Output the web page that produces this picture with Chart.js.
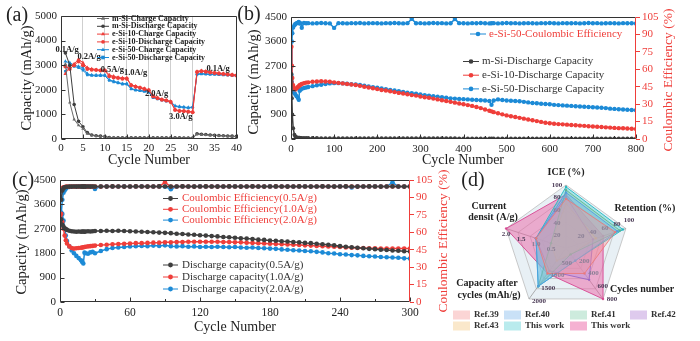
<!DOCTYPE html>
<html><head><meta charset="utf-8">
<script src="https://cdn.jsdelivr.net/npm/chart.js@4.4.1/dist/chart.umd.min.js"></script>
<style>
html,body{margin:0;padding:0;background:#fff;width:700px;height:341px;overflow:hidden;}
canvas{position:absolute;}
</style></head><body>
<canvas id="ca" width="245" height="172" style="left:0px;top:0px"></canvas>
<canvas id="cb" width="464" height="172" style="left:236px;top:0px"></canvas>
<canvas id="cc" width="450" height="173" style="left:0px;top:168px"></canvas>
<canvas id="cd" width="260" height="176" style="left:440px;top:165px"></canvas>
<script>
// ---------------- DATA ----------------
// (a) rate performance
const aCycles = [1,2,3,4,5,6,7,8,9,10,11,12,13,14,15,16,17,18,19,20,21,22,23,24,25,26,27,28,29,30,31,32,33,34,35,36,37,38,39,40];
const aMSiCharge = [3050,1480,790,560,420,210,150,120,105,95,55,48,45,45,44,44,43,43,42,42,42,41,41,41,40,40,40,40,40,40,190,175,165,155,145,135,125,115,105,95];
const aMSiDischarge = [3500,3000,1400,720,500,260,165,135,115,100,60,52,50,49,48,48,47,47,46,46,45,45,45,44,44,44,44,43,43,43,215,195,180,165,155,145,135,125,115,105];
const aE10Charge = [2650,2950,3050,3250,3100,2900,2850,2820,2800,2800,2600,2550,2500,2480,2480,2200,2150,2100,2050,2000,1750,1680,1620,1580,1530,1200,1150,1150,1120,1100,2750,2780,2760,2730,2700,2680,2660,2640,2620,2600];
const aE10Discharge = [2950,2850,3000,3150,3000,2850,2820,2800,2780,2780,2550,2500,2480,2450,2450,2180,2120,2080,2030,1980,1730,1660,1600,1560,1500,1180,1140,1130,1110,1090,2720,2750,2730,2700,2680,2660,2640,2620,2600,2580];
const aE50Charge = [3150,3100,3000,2950,2900,2650,2600,2600,2600,2600,2400,2350,2300,2250,2250,2050,2000,1980,1950,1920,1700,1650,1600,1550,1520,1350,1320,1300,1280,1300,2650,2660,2650,2640,2640,2630,2620,2610,2600,2590];
const aE50Discharge = [2750,3050,2950,2900,2800,2600,2580,2570,2570,2570,2380,2320,2280,2230,2230,2030,1980,1960,1930,1900,1680,1630,1580,1540,1500,1330,1300,1280,1260,1280,2620,2640,2630,2620,2620,2610,2600,2590,2580,2570];
const aRateLabels = ['0.1A/g','0.2A/g','0.5A/g','1.0A/g','2.0A/g','3.0A/g','0.1A/g'];
const aRateX = [1.4,6.4,11.7,17,21.8,27.3,35.8];
const aRateY = [3640,3330,2800,2700,1830,890,2870];

// (b) long cycling
const bCycles = [1,2,3,5,8,10,13,16,18,20,22,25,30,35,
40,50,60,70,80,90,100,110,120,130,140,150,160,170,180,190,200,210,220,230,240,250,260,270,280,290,300,310,320,330,340,350,360,370,380,390,400,410,420,430,440,450,460,
465,470,480,490,500,510,520,530,540,550,560,570,580,590,600,610,620,630,640,650,660,670,680,690,700,710,720,730,740,750,760,770,780,790,800];
const bMSi = [2400,1500,900,400,160,90,60,50,45,42,40,38,36,35,
34,33,33,32,32,31,31,30,30,30,29,29,29,28,28,28,28,27,27,27,27,26,26,26,26,25,25,25,25,25,24,24,24,24,24,23,23,23,23,23,23,22,22,
22,22,22,22,21,21,21,21,21,21,20,20,20,20,20,20,20,20,19,19,19,19,19,19,19,19,18,18,18,18,18,18,18,18,18];
const bE10 = [3400,2700,2250,1980,1860,1830,1870,1920,1950,1980,2000,2030,2060,2080,
2090,2110,2120,2130,2120,2110,2090,2070,2050,2030,2010,1990,1960,1930,1900,1870,1840,1810,1790,1760,1730,1700,1680,1650,1620,1600,1570,1540,1520,1490,1460,1430,1400,1370,1340,1310,1280,1250,1220,1180,1140,1090,1040,
1020,990,950,910,870,840,810,780,750,720,690,660,630,600,580,560,550,540,530,515,505,495,485,470,460,450,440,430,420,410,400,395,385,380,370];
const bE50 = [2700,2100,1850,1750,1700,1650,1580,1520,1450,1780,1820,1850,1880,1900,
1920,1950,1980,2000,2030,2050,2060,2060,2050,2040,2020,2010,1990,1970,1940,1910,1890,1860,1840,1810,1790,1760,1740,1710,1690,1670,1640,1620,1600,1580,1560,1540,1520,1500,1490,1480,1470,1460,1450,1440,1430,1420,1400,
1260,1420,1460,1440,1420,1410,1400,1390,1370,1350,1330,1320,1300,1290,1280,1260,1250,1240,1230,1220,1210,1200,1190,1180,1170,1160,1150,1140,1120,1110,1100,1090,1080,1070,1060];
const bE50CE = [55,84,91,96,98,99,99.6,100.2,100.8,99.4,99.7,95.8,99.8,99.6,
99.7,99.5,99.6,99.8,99.6,99.5,95.6,99.7,99.6,99.5,99.7,99.6,99.8,99.5,99.6,99.7,99.6,99.5,99.7,99.6,99.8,99.6,99.5,99.7,103.4,99.6,99.7,99.5,99.6,99.8,99.6,99.7,99.5,99.6,103.2,99.7,99.6,99.5,99.7,99.6,99.8,99.6,99.5,
99.6,99.7,99.5,99.6,99.8,99.6,99.7,99.5,99.6,99.7,99.6,99.5,99.7,99.6,99.8,99.6,99.5,99.7,99.6,99.6,99.7,99.5,99.6,99.8,99.6,99.7,99.5,99.6,99.7,99.6,99.5,99.7,99.6,99.6,99.5];

// (c) cycling at different current densities
const cCycles = [1,2,3,4,5,6,8,10,12,14,16,18,19,20,21,22,24,26,28,30,
35,40,45,50,55,60,65,70,75,80,85,90,95,100,105,110,115,120,125,130,135,140,145,150,155,160,165,170,175,180,185,190,195,200,205,210,215,220,225,230,235,240,245,250,255,260,265,270,275,280,285,290,295,300];
const cDis05 = [3050,2850,2780,2720,2690,2660,2630,2610,2600,2590,2600,2590,2600,2600,2590,2600,2610,2600,2610,2620,
2620,2630,2620,2630,2620,2610,2600,2590,2580,2570,2560,2550,2540,2520,2510,2490,2480,2460,2450,2430,2420,2400,2390,2370,2350,2340,2320,2300,2290,2270,2260,2240,2230,2210,2200,2180,2170,2150,2130,2110,2090,2060,2040,2020,2000,1980,1960,1950,1930,1920,1900,1890,1870,1860];
const cDis10 = [3250,2950,2700,2450,2280,2160,2050,1990,1970,1980,1990,2000,2010,2020,2030,2040,2050,2060,2070,2080,
2100,2110,2130,2140,2150,2160,2170,2170,2180,2190,2190,2200,2200,2210,2210,2220,2220,2220,2220,2220,2220,2210,2210,2200,2200,2190,2180,2170,2160,2150,2140,2130,2120,2110,2100,2090,2080,2070,2060,2050,2040,2030,2010,2000,1990,1990,1980,1980,1970,1970,1970,1970,1970,1970];
const cDis20 = [3300,3250,3000,2700,2450,2250,2050,1900,1800,1700,1620,1540,1480,1420,1820,1800,1780,1830,1850,1800,
1880,1950,1990,2010,2030,2050,2060,2070,2060,2080,2070,2090,2060,2050,2060,2040,2050,2030,2040,2030,2040,2030,2020,2030,2010,2000,2010,1990,1980,1970,1960,1940,1930,1910,1900,1880,1870,1850,1830,1800,1790,1760,1750,1730,1720,1700,1690,1680,1660,1650,1640,1630,1610,1600];
const cCE05 = [88,96,98,98.8,99,99.2,99.3,99.3,99.4,99.3,99.4,99.3,99.4,99.3,99.4,99.3,99.4,99.3,99.4,99.3,
99.4,99.3,99.5,99.4,99.3,99.4,99.5,99.4,99.3,99.4,99.5,99.4,99.3,99.4,99.5,99.4,99.3,99.4,99.5,99.4,99.3,99.4,99.5,99.4,99.3,99.4,99.5,99.4,99.3,99.4,99.5,99.4,99.3,99.4,99.5,99.4,99.3,99.4,99.5,99.4,99.3,99.4,99.5,99.4,99.3,99.4,99.5,99.4,99.3,99.4,99.5,99.4,99.3,99.4];
const cCE10 = [96,98,98.8,99,99.2,99.3,99.3,99.4,99.3,99.4,99.3,99.4,99.3,99.4,99.3,99.4,99.3,99.4,99.3,99.4,
99.3,99.4,99.5,99.4,99.3,99.4,99.5,99.4,99.3,99.4,99.5,103,99.3,99.4,99.5,99.4,99.3,99.4,99.5,99.4,99.3,99.4,99.5,99.4,99.3,99.4,99.5,99.4,99.3,99.4,99.5,99.4,99.3,99.4,99.5,99.4,99.3,99.4,99.5,99.4,99.3,99.4,99.5,99.4,99.3,99.4,99.5,99.4,99.3,99.4,99.5,99.4,99.3,99.4];
const cCE20 = [75,88,94,96,97.5,98.5,99,99.2,99.4,99.3,99.5,99.4,99.3,99.5,99.4,99.3,99.5,99.4,99.3,97.3,
99.4,99.5,99.3,99.4,99.5,99.3,99.4,99.5,99.3,99.4,99.5,99.3,97,99.4,99.5,99.3,99.4,99.5,99.3,99.4,99.5,99.3,99.4,99.5,99.3,99.4,99.5,99.3,99.4,99.5,99.3,99.4,99.5,99.3,99.4,99.5,99.3,99.4,99.5,99.3,99.4,99.5,99.3,98.6,99.5,99.3,99.4,99.5,99.3,99.4,103,99.3,99.4,99.5];

// (d) radar comparison
const dAxes = ['ICE (%)','Retention (%)','Cycles number','Capacity after cycles (mAh/g)','Current densit (A/g)'];
const dAxisMax = [100,100,800,2000,2.0];
const dTickLabels = [['20','40','60','80','100'],['20','40','60','80','100'],['200','400','600','800'],['500','1000','1500','2000'],['0.5','1.0','1.5','2.0']];
const dTickValues = [[20,40,60,80,100],[20,40,60,80,100],[200,400,600,800],[500,1000,1500,2000],[0.5,1.0,1.5,2.0]];
const dNames = ['Ref.39','Ref.40','Ref.41','Ref.42','Ref.43','This work','This work'];
const dRef39 = [78,82,400,1000,1.0];
const dRef40 = [88,86,200,1500,1.0];
const dRef41 = [92,90,100,1500,0.5];
const dRef42 = [82,45,500,900,1.0];
const dRef43 = [70,50,100,500,0.5];
const dThisA = [97,95,200,1500,1.0];
const dThisB = [85,62,800,1000,2.0];

// ---------------- STYLE / HELPERS ----------------
const F = "'Liberation Serif','Times New Roman',serif";
Chart.defaults.font.family = F;
Chart.defaults.font.size = 11;
Chart.defaults.color = '#222';
Chart.defaults.animation = false;
const RED = '#ef3e3a', BLUE = '#1c8ad6', GRAY = '#3e3e3e', GRAY2 = '#6a6a6a';
const ROT = -Math.PI/2;
const plain = v => String(v);

function pts(xs, ys){ return ys.map((v,i)=>({x:xs[i], y:v})); }
function ds(label, xs, ys, color, style, r, axis, bw){
  return {label, data:pts(xs,ys), borderColor:color, backgroundColor:color, pointBackgroundColor:color,
    pointBorderColor:color, pointStyle:style, pointRadius:r, pointBorderWidth:0, borderWidth:bw,
    yAxisID:axis||'y', tension:0, fill:false};
}
function mark(ctx, style, x, y, r){
  ctx.beginPath();
  if(style==='triangle'){ ctx.moveTo(x,y-r*1.25); ctx.lineTo(x+r*1.1,y+r*0.7); ctx.lineTo(x-r*1.1,y+r*0.7); ctx.closePath(); }
  else if(style==='rect'){ ctx.rect(x-r,y-r,2*r,2*r); }
  else { ctx.arc(x,y,r,0,Math.PI*2); }
  ctx.fill();
}
function txt(ctx, t, x, y, font, color, rot, align){
  ctx.save(); ctx.translate(x,y); if(rot) ctx.rotate(rot);
  ctx.font = font; ctx.fillStyle = color; ctx.textAlign = align||'center'; ctx.textBaseline = 'middle';
  ctx.fillText(t,0,0); ctx.restore();
}
function makeDecor(cfg){
  return { id: cfg.id, afterDraw(chart){
    const ctx = chart.ctx, a = chart.chartArea, ox = cfg.ox, oy = cfg.oy;
    const L = Math.round(a.left)+0.5, R = Math.round(a.right)-0.5, T = Math.round(a.top)+0.5, B = Math.round(a.bottom)-0.5;
    ctx.save();
    ctx.lineWidth = 1; ctx.strokeStyle = '#333';
    ctx.beginPath(); ctx.moveTo(R,T); ctx.lineTo(L,T); ctx.lineTo(L,B); ctx.lineTo(R,B); ctx.stroke();
    ctx.strokeStyle = cfg.rightColor || '#333';
    ctx.beginPath(); ctx.moveTo(R,T); ctx.lineTo(R,B); ctx.stroke();
    const xs = chart.scales.x, ys = chart.scales.y;
    const xv = xs.ticks.map(t=>t.value), yv = ys.ticks.map(t=>t.value);
    ctx.strokeStyle = '#333'; ctx.beginPath();
    xv.forEach(v=>{ const p=Math.round(xs.getPixelForValue(v))+0.5; ctx.moveTo(p,B); ctx.lineTo(p,B-4); });
    if(cfg.xMinor) for(let i=0;i<xv.length-1;i++){ const p=Math.round(xs.getPixelForValue((xv[i]+xv[i+1])/2))+0.5; ctx.moveTo(p,B); ctx.lineTo(p,B-2.5); }
    yv.forEach(v=>{ const p=Math.round(ys.getPixelForValue(v))+0.5; ctx.moveTo(L,p); ctx.lineTo(L+4,p); });
    if(cfg.yMinor) for(let i=0;i<yv.length-1;i++){ const p=Math.round(ys.getPixelForValue((yv[i]+yv[i+1])/2))+0.5; ctx.moveTo(L,p); ctx.lineTo(L+2.5,p); }
    ctx.stroke();
    (cfg.notes||[]).forEach(n=>txt(ctx, n.t, xs.getPixelForValue(n.x), ys.getPixelForValue(n.y), n.font, n.color||'#222'));
    (cfg.legends||[]).forEach(lg=>{
      lg.items.forEach((di,k)=>{
        const d = chart.data.datasets[di];
        const y = lg.y + k*lg.dy - oy, x = lg.x - ox;
        ctx.strokeStyle = d.borderColor; ctx.lineWidth = 1;
        ctx.beginPath(); ctx.moveTo(x,y); ctx.lineTo(x+lg.len,y); ctx.stroke();
        ctx.fillStyle = d.pointBackgroundColor; mark(ctx, d.pointStyle, x+lg.len/2, y, lg.r);
        txt(ctx, d.label, x+lg.len+lg.gap, y, lg.font, lg.color, 0, 'left');
      });
    });
    (cfg.texts||[]).forEach(t=>txt(ctx, t.t, t.x-ox, t.y-oy, t.font, t.color||'#222', t.rot||0, t.align));
    ctx.restore();
  }};
}
const fixW = w => s => { s.width = w; };
const fixH = h => s => { s.height = h; };
const noLegend = {legend:{display:false}, tooltip:{enabled:false}};

// ---------------- (a) ----------------
new Chart(document.getElementById('ca'), {
  type:'line',
  data:{datasets:[
    ds('m-Si-Charge Capacity', aCycles, aMSiCharge, GRAY2, 'triangle', 2, 'y', 1),
    ds('m-Si-Discharge Capacity', aCycles, aMSiDischarge, GRAY, 'circle', 1.8, 'y', 1),
    ds('e-Si-10-Charge Capacity', aCycles, aE10Charge, RED, 'triangle', 2.2, 'y', 1),
    ds('e-Si-10-Discharge Capacity', aCycles, aE10Discharge, RED, 'circle', 2, 'y', 1),
    ds('e-Si-50-Charge Capacity', aCycles, aE50Charge, BLUE, 'triangle', 2.2, 'y', 1),
    ds('e-Si-50-Discharge Capacity', aCycles, aE50Discharge, BLUE, 'rect', 1.8, 'y', 1)
  ]},
  options:{responsive:false, animation:false,
    layout:{padding:{top:16,right:8,left:0,bottom:0}},
    plugins:noLegend,
    scales:{
      x:{type:'linear',min:0,max:40,afterFit:fixH(33),
        ticks:{stepSize:5,padding:3,maxRotation:0,autoSkip:false,font:{size:11},callback:plain},
        grid:{drawTicks:false,color:c=>(c.tick&&c.tick.value>=5&&c.tick.value<=30)?'#cfcfcf':'rgba(0,0,0,0)'},
        border:{display:false}},
      y:{min:0,max:5000,afterFit:fixW(61),ticks:{stepSize:1000,padding:4,font:{size:11},callback:plain},
        grid:{display:false,drawTicks:false},border:{display:false}}
    }},
  plugins:[makeDecor({id:'decA', ox:0, oy:0,
    notes: aRateLabels.map((t,i)=>({t, x:aRateX[i], y:aRateY[i], font:'bold 8.5px '+F, color:'#222'})),
    legends:[{x:97, y:18.5, dy:7.8, len:12, gap:3, r:1.8, font:'bold 8px '+F, color:'#222', items:[0,1,2,3,4,5]}],
    texts:[
      {t:'(a)', x:17, y:16, font:'20px '+F},
      {t:'Capacity (mAh/g)', x:27, y:78, font:'14.5px '+F, rot:ROT},
      {t:'Cycle Number', x:149, y:160, font:'14px '+F}
    ]})]
});

// ---------------- (b) ----------------
new Chart(document.getElementById('cb'), {
  type:'line',
  data:{datasets:[
    ds('m-Si-Discharge Capacity', bCycles, bMSi, GRAY, 'circle', 2, 'y', 1.5),
    ds('e-Si-10-Discharge Capacity', bCycles, bE10, RED, 'circle', 2.2, 'y', 1.5),
    ds('e-Si-50-Discharge Capacity', bCycles, bE50, BLUE, 'circle', 2.2, 'y', 1.5),
    ds('e-Si-50-Coulombic Efficiency', bCycles, bE50CE, BLUE, 'circle', 2.2, 'y2', 1.5)
  ]},
  options:{responsive:false, animation:false,
    layout:{padding:{top:17,right:0,left:0,bottom:0}},
    plugins:noLegend,
    scales:{
      x:{type:'linear',min:0,max:800,afterFit:fixH(33),
        ticks:{stepSize:100,padding:4,maxRotation:0,autoSkip:false,font:{size:11},callback:plain},
        grid:{display:false,drawTicks:false},border:{display:false}},
      y:{min:0,max:4500,afterFit:fixW(55),ticks:{stepSize:900,padding:4,font:{size:11},callback:plain},
        grid:{display:false,drawTicks:false},border:{display:false}},
      y2:{position:'right',min:0,max:105,afterFit:fixW(64),
        ticks:{stepSize:15,padding:2,color:RED,font:{size:11},callback:plain},
        grid:{display:true,drawOnChartArea:false,drawTicks:true,tickLength:4,color:RED},border:{display:false}}
    }},
  plugins:[makeDecor({id:'decB', ox:236, oy:0, rightColor:RED, xMinor:true,
    legends:[
      {x:470, y:34, dy:0, len:16, gap:3, r:2.3, font:'11px '+F, color:RED, items:[3]},
      {x:463, y:61.5, dy:13.7, len:16, gap:3, r:2.3, font:'11px '+F, color:'#333', items:[0,1,2]}
    ],
    texts:[
      {t:'(b)', x:249, y:15, font:'20px '+F},
      {t:'Capacity (mAh/g)', x:254, y:82, font:'14.5px '+F, rot:ROT},
      {t:'Coulombic Efficiency (%)', x:668, y:80, font:'13.5px '+F, color:RED, rot:ROT},
      {t:'Cycle Number', x:463, y:160, font:'14px '+F}
    ]})]
});

// ---------------- (c) ----------------
new Chart(document.getElementById('cc'), {
  type:'line',
  data:{datasets:[
    ds('Discharge capacity(0.5A/g)', cCycles, cDis05, GRAY, 'circle', 2.3, 'y', 1.5),
    ds('Discharge capacity(1.0A/g)', cCycles, cDis10, RED, 'circle', 2.3, 'y', 1.5),
    ds('Discharge capacity(2.0A/g)', cCycles, cDis20, BLUE, 'circle', 2.3, 'y', 1.5),
    ds('Coulombic Efficiency(0.5A/g)', cCycles, cCE05, GRAY, 'circle', 2.3, 'y2', 1.5),
    ds('Coulombic Efficiency(1.0A/g)', cCycles, cCE10, RED, 'circle', 2.3, 'y2', 1.5),
    ds('Coulombic Efficiency(2.0A/g)', cCycles, cCE20, BLUE, 'circle', 2.3, 'y2', 1.5)
  ]},
  options:{responsive:false, animation:false,
    layout:{padding:{top:12,right:0,left:0,bottom:0}},
    plugins:noLegend,
    scales:{
      x:{type:'linear',min:0,max:300,afterFit:fixH(39),
        ticks:{stepSize:60,padding:4,maxRotation:0,autoSkip:false,font:{size:11.5},callback:plain},
        grid:{display:false,drawTicks:false},border:{display:false}},
      y:{min:0,max:4500,afterFit:fixW(60),ticks:{stepSize:900,padding:4,font:{size:11},callback:plain},
        grid:{display:false,drawTicks:false},border:{display:false}},
      y2:{position:'right',min:0,max:105,afterFit:fixW(40),
        ticks:{stepSize:15,padding:2,color:RED,font:{size:11},callback:plain},
        grid:{display:true,drawOnChartArea:false,drawTicks:true,tickLength:4,color:RED},border:{display:false}}
    }},
  plugins:[makeDecor({id:'decC', ox:0, oy:168, rightColor:RED, xMinor:true,
    legends:[
      {x:163, y:198.5, dy:10.8, len:15, gap:4, r:2.4, font:'11px '+F, color:RED, items:[3,4,5]},
      {x:163, y:265, dy:12, len:15, gap:4, r:2.4, font:'11px '+F, color:'#333', items:[0,1,2]}
    ],
    texts:[
      {t:'(c)', x:23, y:181, font:'20px '+F},
      {t:'Capacity (mAh/g)', x:22, y:242, font:'14.5px '+F, rot:ROT},
      {t:'Coulombic Efficiency (%)', x:443, y:241, font:'13.5px '+F, color:RED, rot:ROT},
      {t:'Cycle Number', x:235, y:327, font:'14px '+F}
    ]})]
});

// ---------------- (d) ----------------
const dFill = ['rgba(244,150,150,0.4)','rgba(120,180,235,0.4)','rgba(130,205,170,0.4)','rgba(190,150,220,0.5)','rgba(245,205,140,0.45)','rgba(80,205,210,0.4)','rgba(236,100,165,0.5)'];
const dLine = ['rgba(235,120,120,0.85)','rgba(80,155,225,0.85)','rgba(90,180,140,0.85)','rgba(150,100,195,0.85)','rgba(225,170,90,0.85)','rgba(30,185,195,0.9)','rgba(215,70,145,0.9)'];
const dRaw = [dRef39,dRef40,dRef41,dRef42,dRef43,dThisA,dThisB];
const radarDecor = { id:'decD', afterDraw(chart){
  const ctx = chart.ctx, r = chart.scales.r, ox = 440, oy = 165;
  ctx.save();
  const off = [[-9,0],[3,-8],[9,0],[10,2],[0,6]];
  dTickValues.forEach((vals,i)=>{
    vals.forEach((v,k)=>{
      const p = r.getPointPositionForValue(i, v/dAxisMax[i]*100);
      const outer = k>=vals.length-2;
      txt(ctx, dTickLabels[i][k], p.x+off[i][0], p.y+off[i][1], 'bold 7px '+F, outer?'#4a3a55':'#8a7f95');
    });
  });
  const B = 'bold 10px '+F;
  [['ICE (%)',566,172],['Retention (%)',645,208],['Cycles number',642,289],['Capacity after',487,283],['cycles (mAh/g)',489,295],['Current',489,206],['densit (A/g)',493,217]]
    .forEach(t=>txt(ctx, t[0], t[1]-ox, t[2]-oy, B, '#222'));
  txt(ctx, '(d)', 473-ox, 181-oy, '20px '+F, '#222');
  const colX = [453,504,570,630], rowY = [315,326];
  dNames.forEach((n,i)=>{
    const x = colX[i%4]-ox, y = rowY[Math.floor(i/4)]-oy;
    ctx.fillStyle = dFill[i];
    ctx.fillRect(x, y-4.5, 17, 9);
    txt(ctx, n, x+21, y, 'bold 9px '+F, '#333', 0, 'left');
  });
  ctx.restore();
}};
new Chart(document.getElementById('cd'), {
  type:'radar',
  data:{labels:dAxes, datasets: dRaw.map((arr,i)=>({
    label:dNames[i], data:arr.map((v,k)=>v/dAxisMax[k]*100),
    backgroundColor:dFill[i], borderColor:dLine[i], borderWidth:1, fill:true,
    pointRadius:1.2, pointBackgroundColor:dLine[i], pointBorderWidth:0
  }))},
  options:{responsive:false, animation:false,
    layout:{padding:{left:63,top:20,right:71,bottom:30}},
    plugins:noLegend,
    scales:{r:{min:0,max:100,backgroundColor:'rgba(205,222,232,0.45)',
      ticks:{display:false,stepSize:20},pointLabels:{display:false},
      grid:{circular:false,color:'#bdbdbd',lineWidth:0.8},
      angleLines:{color:'#9a9a9a',lineWidth:0.8}}}
  },
  plugins:[radarDecor]
});
</script>
</body></html>
